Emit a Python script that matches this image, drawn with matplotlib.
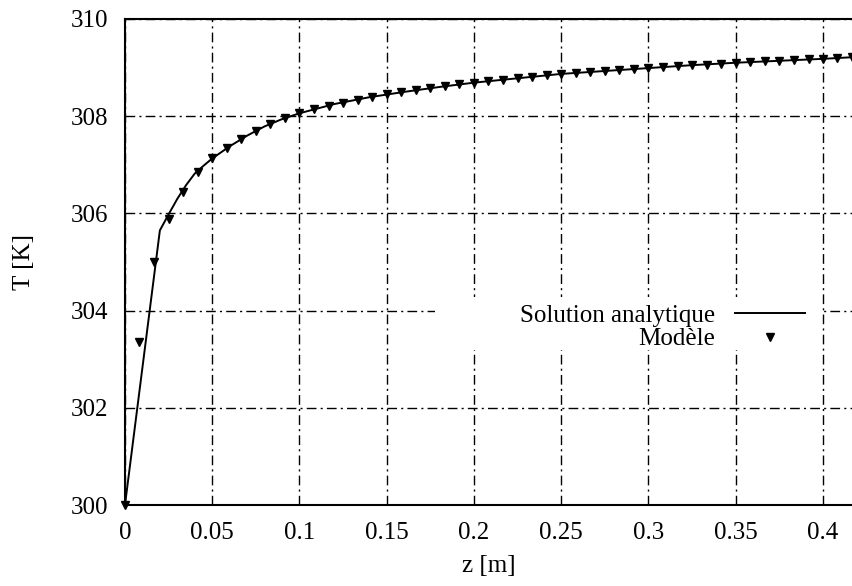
import matplotlib
matplotlib.use('Agg')
import matplotlib.pyplot as plt
from matplotlib.patches import Rectangle

plt.rcParams['font.family'] = ['Liberation Serif', 'DejaVu Serif']

# analytic solution
z_ana = [0.0, 0.02, 0.025, 0.03, 0.035, 0.04, 0.045, 0.05, 0.06, 0.07, 0.08, 0.09, 0.1,
         0.12, 0.14, 0.16, 0.18, 0.2, 0.225, 0.25, 0.275, 0.3, 0.325, 0.35, 0.375, 0.4, 0.42]
T_ana = [300.0, 305.65, 305.98, 306.3, 306.58, 306.82, 306.98, 307.13, 307.38, 307.6, 307.79,
         307.94, 308.06, 308.25, 308.39, 308.5, 308.6, 308.69, 308.78, 308.87, 308.93, 308.99,
         309.05, 309.1, 309.14, 309.18, 309.22]

# model points
z_mod = [0.0, 0.0083, 0.0167, 0.025, 0.0333, 0.0417, 0.05, 0.0583, 0.0667, 0.075, 0.0833,
         0.0917, 0.1, 0.1083, 0.1167, 0.125, 0.1333, 0.1417, 0.15, 0.1583, 0.1667, 0.175,
         0.1833, 0.1917, 0.2, 0.2083, 0.2167, 0.225, 0.2333, 0.2417, 0.25, 0.2583, 0.2667,
         0.275, 0.2833, 0.2917, 0.3, 0.3083, 0.3167, 0.325, 0.3333, 0.3417, 0.35, 0.3583,
         0.3667, 0.375, 0.3833, 0.3917, 0.4, 0.4083, 0.4167]
T_mod = [300.0, 303.35, 305.0, 305.88, 306.45, 306.85, 307.13, 307.35, 307.54, 307.7, 307.84,
         307.96, 308.06, 308.14, 308.21, 308.28, 308.34, 308.4, 308.45, 308.5, 308.54, 308.58,
         308.62, 308.66, 308.69, 308.72, 308.75, 308.78, 308.81, 308.84, 308.87, 308.89, 308.91,
         308.93, 308.95, 308.97, 308.99, 309.01, 309.03, 309.05, 309.06, 309.08, 309.1, 309.11,
         309.13, 309.14, 309.15, 309.17, 309.18, 309.19, 309.21]

x_ticks = [0, 0.05, 0.1, 0.15, 0.2, 0.25, 0.3, 0.35, 0.4]
x_labels = ['0', '0.05', '0.1', '0.15', '0.2', '0.25', '0.3', '0.35', '0.4']
y_ticks = [300, 302, 304, 306, 308, 310]

fig = plt.figure(figsize=(8.53, 5.86), dpi=100)
ax = fig.add_axes([0.1465, 0.1382, 0.8535, 0.8294])

ax.plot(z_ana, T_ana, color='black', linewidth=1.4, label='Solution analytique', zorder=3)
ax.plot(z_mod, T_mod, linestyle='none', marker='v', color='black', markersize=5.5,
        label='Modèle', clip_on=False, zorder=3)

ax.set_xlim(0, 0.4172)
ax.set_ylim(300, 310)
ax.set_xticks(x_ticks)
ax.set_xticklabels(x_labels)
ax.set_yticks(y_ticks)

ax.grid(True, color='black', linewidth=1.0, linestyle=(0, (7, 3, 1.5, 3)))
ax.set_axisbelow(True)

# white key box that hides the grid, like the original
ax.add_patch(Rectangle((0.426, 0.319), 0.529, 0.109, transform=ax.transAxes,
                       facecolor='white', edgecolor='none', zorder=1))

for s in ['left', 'bottom', 'top']:
    ax.spines[s].set_linewidth(1.5)
ax.spines['right'].set_visible(False)

ax.tick_params(axis='both', which='major', labelsize=18, direction='in', length=0, pad=12)

ax.set_xlabel('z [m]', fontsize=18, labelpad=8)
ax.set_ylabel('T [K]', fontsize=18, labelpad=26)

leg = ax.legend(loc='upper right', bbox_to_anchor=(0.968, 0.465), markerfirst=False,
                fontsize=18, frameon=False, handlelength=2.8,
                labelspacing=0.05, borderpad=0.5, handletextpad=0.8)
for t in leg.get_texts():
    t.set_ha('right')

fig.savefig('out.png', dpi=100)
